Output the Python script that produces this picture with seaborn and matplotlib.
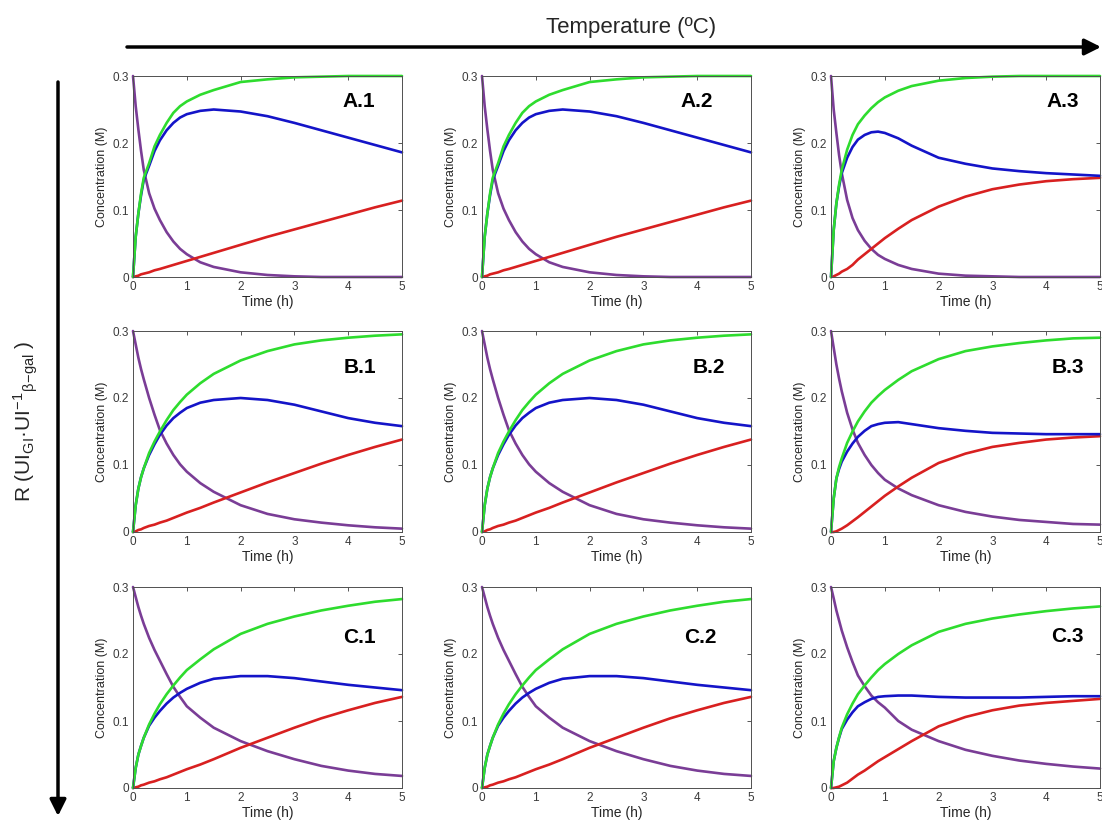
import matplotlib
matplotlib.use("Agg")
import matplotlib.pyplot as plt
from matplotlib.patches import FancyArrowPatch
import pandas as pd
import seaborn as sns

# time grid (h) shared by every curve
time_h = [0, 0.05, 0.1, 0.15, 0.2, 0.3, 0.4, 0.5, 0.625, 0.75, 0.875, 1,
          1.25, 1.5, 2, 2.5, 3, 3.5, 4, 4.5, 5]

# row A, columns 1 and 2 (identical curves)
a_green = [0, .06, .095, .125, .148, .17, .195, .212, .23, .245, .255, .262, .272, .279, .291, .295, .298, .299, .3, .3, .3]
a_blue = [0, .06, .095, .122, .145, .166, .188, .204, .219, .23, .238, .243, .248, .25, .247, .24, .23, .219, .208, .197, .186]
a_red = [0, .001, .002, .004, .005, .007, .01, .012, .015, .018, .021, .024, .03, .036, .048, .06, .071, .082, .093, .104, .114]
a_purple = [.3, .255, .22, .188, .16, .125, .102, .085, .067, .053, .042, .034, .022, .015, .007, .003, .001, 0, 0, 0, 0]

# row A, column 3
a3_green = [0, .07, .11, .138, .16, .19, .212, .228, .241, .252, .261, .268, .278, .285, .293, .297, .299, .3, .3, .3, .3]
a3_blue = [0, .07, .11, .135, .155, .178, .194, .205, .212, .216, .217, .215, .207, .196, .178, .169, .162, .158, .155, .153, .151]
a3_red = [0, .001, .003, .005, .008, .012, .018, .026, .034, .042, .05, .058, .072, .085, .105, .12, .131, .138, .143, .146, .148]
a3_purple = [.3, .25, .215, .182, .155, .115, .088, .07, .054, .042, .033, .027, .018, .012, .005, .002, .001, 0, 0, 0, 0]

# row B, columns 1 and 2
b_green = [0, .04, .065, .082, .095, .118, .135, .15, .167, .182, .194, .205, .222, .236, .256, .27, .28, .286, .29, .293, .295]
b_blue = [0, .04, .065, .082, .095, .115, .131, .145, .159, .17, .178, .185, .193, .197, .2, .197, .19, .18, .17, .163, .158]
b_red = [0, .001, .003, .004, .006, .009, .011, .014, .017, .021, .025, .029, .036, .044, .059, .074, .088, .102, .115, .127, .138]
b_purple = [.3, .28, .26, .243, .228, .2, .175, .152, .132, .115, .101, .09, .073, .06, .04, .027, .019, .014, .01, .007, .005]

# row B, column 3
b3_green = [0, .05, .08, .097, .11, .133, .15, .165, .18, .193, .203, .212, .227, .24, .258, .27, .277, .282, .286, .289, .29]
b3_blue = [0, .05, .08, .094, .105, .12, .132, .142, .151, .158, .161, .163, .164, .161, .155, .151, .148, .147, .146, .146, .146]
b3_red = [0, 0, .001, .003, .005, .01, .016, .022, .03, .038, .046, .054, .068, .081, .103, .117, .127, .133, .138, .141, .143]
b3_purple = [.3, .275, .25, .229, .21, .178, .153, .133, .115, .1, .088, .078, .065, .055, .04, .03, .023, .018, .015, .012, .011]

# row C, columns 1 and 2
c_green = [0, .03, .05, .063, .075, .095, .111, .125, .14, .153, .165, .176, .192, .207, .23, .245, .256, .265, .272, .278, .282]
c_blue = [0, .03, .05, .063, .075, .093, .105, .115, .126, .135, .142, .148, .157, .163, .167, .167, .164, .159, .154, .15, .146]
c_red = [0, .001, .002, .004, .005, .008, .01, .013, .016, .02, .024, .028, .035, .043, .06, .075, .09, .104, .116, .127, .136]
c_purple = [.3, .285, .27, .257, .245, .224, .206, .19, .17, .151, .136, .122, .105, .09, .07, .055, .043, .033, .026, .021, .018]

# row C, column 3
c3_green = [0, .04, .06, .076, .09, .11, .126, .14, .153, .165, .176, .185, .2, .213, .233, .245, .253, .259, .264, .268, .271]
c3_blue = [0, .04, .06, .075, .088, .102, .113, .122, .128, .133, .136, .137, .138, .138, .136, .135, .135, .135, .136, .137, .137]
c3_red = [0, 0, .001, .002, .004, .008, .014, .02, .026, .033, .04, .046, .058, .07, .092, .106, .116, .123, .127, .13, .133]
c3_purple = [.3, .283, .265, .25, .235, .21, .188, .168, .152, .138, .128, .12, .1, .087, .07, .057, .048, .041, .036, .032, .029]

panel_labels = ["A.1", "A.2", "A.3", "B.1", "B.2", "B.3", "C.1", "C.2", "C.3"]
panel_curves = [
    (a_green, a_blue, a_red, a_purple), (a_green, a_blue, a_red, a_purple),
    (a3_green, a3_blue, a3_red, a3_purple),
    (b_green, b_blue, b_red, b_purple), (b_green, b_blue, b_red, b_purple),
    (b3_green, b3_blue, b3_red, b3_purple),
    (c_green, c_blue, c_red, c_purple), (c_green, c_blue, c_red, c_purple),
    (c3_green, c3_blue, c3_red, c3_purple),
]

species = ["purple", "red", "blue", "green"]
palette = {"green": "#2edc2e", "blue": "#1414c8", "red": "#d82020", "purple": "#7a3d96"}

sns.set_style("white")
plt.rcParams["font.family"] = ["Liberation Sans", "DejaVu Sans"]
plt.rcParams["mathtext.fontset"] = "custom"
plt.rcParams["mathtext.rm"] = "Liberation Sans"
plt.rcParams["mathtext.it"] = "Liberation Sans:italic"
plt.rcParams["mathtext.bf"] = "Liberation Sans:bold"

W, H = 1102, 827
fig = plt.figure(figsize=(W / 100, H / 100), dpi=100)

col_left = [133, 482, 831]
row_bottom = [277, 532, 788]
ax_w, ax_h = 269, 201
label_pos = [(0.84, 0.875), (0.80, 0.875), (0.86, 0.875),
             (0.845, 0.82), (0.845, 0.82), (0.88, 0.82),
             (0.84, 0.75), (0.81, 0.75), (0.88, 0.755)]

for i, (label, curves) in enumerate(zip(panel_labels, panel_curves)):
    r, c = divmod(i, 3)
    ax = fig.add_axes([col_left[c] / W, 1 - row_bottom[r] / H, ax_w / W, ax_h / H])
    green, blue, red, purple = curves
    by_name = {"green": green, "blue": blue, "red": red, "purple": purple}
    df = pd.DataFrame({
        "time": time_h * 4,
        "conc": sum((by_name[s] for s in species), []),
        "species": [s for s in species for _ in time_h],
    })
    sns.lineplot(data=df, x="time", y="conc", hue="species", hue_order=species,
                 palette=palette, estimator=None, legend=False, linewidth=1.9,
                 ax=ax, clip_on=False)
    ax.set_xlim(0, 5)
    ax.set_ylim(0, 0.3)
    ax.set_xticks(range(6))
    ax.set_yticks([0, 0.1, 0.2, 0.3])
    ax.set_yticklabels(["0", "0.1", "0.2", "0.3"])
    ax.tick_params(direction="in", top=True, right=True, length=3, width=0.6,
                   labelsize=8.5, colors="#3a3a3a", pad=3)
    for sp in ax.spines.values():
        sp.set_color("#505050")
        sp.set_linewidth(0.7)
    ax.set_xlabel("Time (h)", fontsize=10, color="#262626", labelpad=1)
    ax.set_ylabel("Concentration (M)", fontsize=9, color="#262626", labelpad=3)
    lx, ly = label_pos[i]
    ax.text(lx, ly, label, transform=ax.transAxes, ha="center", va="center",
            fontsize=15, fontweight="bold", color="black")

# axis arrows for the experimental factors
top_arrow = FancyArrowPatch((127 / W, 1 - 47 / H), (1101 / W, 1 - 47 / H),
                            transform=fig.transFigure, arrowstyle="-|>,head_length=0.7,head_width=0.35",
                            mutation_scale=14, lw=2.5, color="black", shrinkA=0, shrinkB=0)
left_arrow = FancyArrowPatch((58 / W, 1 - 82 / H), (58 / W, 1 - 816 / H),
                             transform=fig.transFigure, arrowstyle="-|>,head_length=0.7,head_width=0.35",
                             mutation_scale=14, lw=2.5, color="black", shrinkA=0, shrinkB=0)
fig.add_artist(top_arrow)
fig.add_artist(left_arrow)

fig.text(631 / W, 1 - 28 / H, "Temperature (ºC)", ha="center", va="center", fontsize=16)
fig.text(26 / W, 1 - 421 / H,
         r"R (UI$_{\mathrm{GI}}$·UI$^{\mathrm{-1}}$$_{\mathrm{\beta\!-\!gal}}$ )",
         ha="center", va="center", rotation=90, fontsize=15)

fig.savefig("out.png", dpi=100)
